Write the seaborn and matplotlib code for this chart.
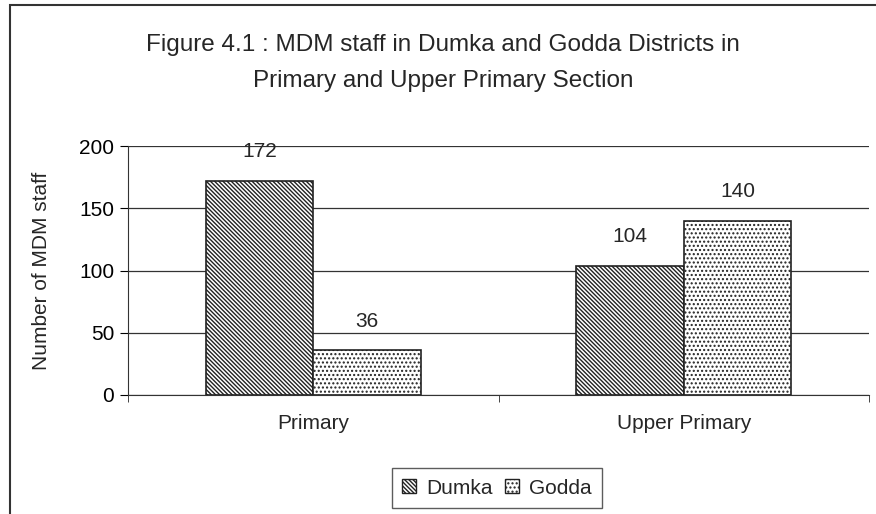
import matplotlib
matplotlib.use("Agg")
import matplotlib.pyplot as plt
from matplotlib.patches import Rectangle, Patch
import pandas as pd
import seaborn as sns

sections = ["Primary", "Upper Primary"]
districts = ["Dumka", "Godda"]
dumka = [172, 104]
godda = [36, 140]

hatches = {"Dumka": "\\\\\\\\\\\\\\\\", "Godda": "...."}

df = pd.DataFrame({
    "section": sections * 2,
    "district": ["Dumka"] * 2 + ["Godda"] * 2,
    "staff": dumka + godda,
})

sns.set_style("white")
plt.rcParams["font.family"] = ["Liberation Sans", "DejaVu Sans"]
plt.rcParams["hatch.linewidth"] = 1.0

fig = plt.figure(figsize=(8.76, 5.14), dpi=100)
ax = fig.add_axes([128 / 876, 1 - 395 / 514, 741 / 876, 249 / 514])

sns.barplot(data=df, x="section", y="staff", hue="district", hue_order=districts,
            order=sections, width=0.58, ax=ax, legend=False)

for i, container in enumerate(ax.containers):
    name = districts[i]
    for bar in container:
        bar.set_facecolor("white")
        bar.set_edgecolor("#222222")
        bar.set_linewidth(1.2)
        bar.set_hatch(hatches[name])
    ax.bar_label(container, padding=14, fontsize=15)

ax.set_ylim(0, 200)
ax.set_xlim(-0.5, 1.5)
ax.set_yticks([0, 50, 100, 150, 200])
ax.yaxis.grid(True, color="#333333", linewidth=0.9)
ax.set_axisbelow(True)
for side in ["top", "right"]:
    ax.spines[side].set_visible(False)
ax.spines["left"].set_color("#333333")
ax.spines["bottom"].set_color("#333333")
ax.tick_params(axis="y", direction="out", length=6, labelsize=15, colors="black", left=True, pad=4)
ax.tick_params(axis="x", which="major", length=0, labelsize=15, pad=14)
ax.set_xticks([-0.5, 0.5, 1.5], minor=True)
ax.tick_params(axis="x", which="minor", length=5, direction="out", bottom=True)
ax.set_xlabel("")
ax.set_ylabel("Number of MDM staff", fontsize=15, labelpad=20)

fig.text(0.506, 0.877, "Figure 4.1 : MDM staff in Dumka and Godda Districts in\nPrimary and Upper Primary Section",
         ha="center", va="center", fontsize=17.5, linespacing=1.8)

handles = [Patch(facecolor="white", edgecolor="#222222", hatch=hatches[d], label=d) for d in districts]
leg = fig.legend(handles=handles, loc="center", bbox_to_anchor=(497 / 876, 1 - 488 / 514), ncol=2,
                 frameon=True, fancybox=False, fontsize=15, handlelength=0.65, handleheight=0.65,
                 handletextpad=0.5, columnspacing=0.6, borderpad=0.5)
leg.get_frame().set_edgecolor("#333333")
leg.get_frame().set_linewidth(1)

fig.add_artist(Rectangle((10 / 876, -0.1), 2, 1 - 5 / 514 + 0.1, transform=fig.transFigure,
                         fill=False, edgecolor="#333333", linewidth=1.5))

fig.savefig("out.png", dpi=100)
